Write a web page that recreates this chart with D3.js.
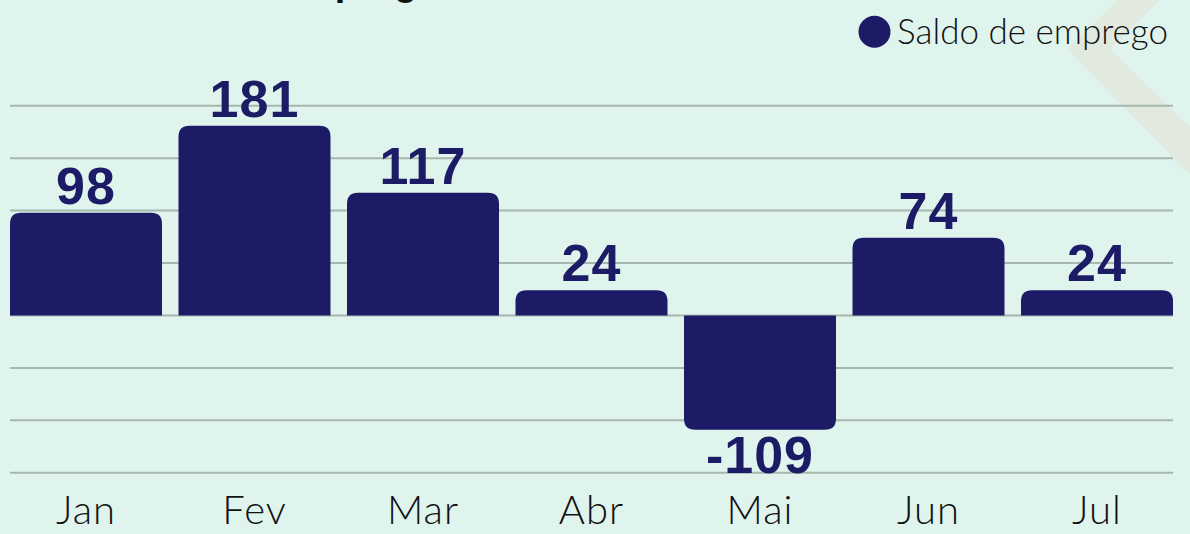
<!DOCTYPE html>
<html lang="pt">

<head>
    <meta charset="UTF-8">
    <title>Saldo de emprego</title>
    <script src="https://d3js.org/d3.v7.min.js"></script>
    <style>
        html, body { margin: 0; padding: 0; background: #e0f4ee; overflow: hidden; }
    </style>
</head>

<body>

    <svg width="1190" height="534"></svg>

    <script>

        // Data
        const months = ["Jan", "Fev", "Mar", "Abr", "Mai", "Jun", "Jul"];
        const saldo = [98, 181, 117, 24, -109, 74, 24];
        const gridValues = [-150, -100, -50, 0, 50, 100, 150, 200];
        const seriesName = "Saldo de emprego";
        const title = "Saldo de emprego";

        const width = 1190, height = 534;
        const navy = "#1c1b66";

        const svg = d3.select("svg")
                      .attr("width", width)
                      .attr("height", height);

        // Background
        svg.append("rect")
           .attr("width", width)
           .attr("height", height)
           .attr("fill", "#e0f4ee");

        // Decorative chevron in the top right corner
        svg.append("path")
           .attr("d", "M1118,0 L1067,49 L1190,175 L1190,127 L1110,49 L1160,0 Z")
           .attr("fill", "#e2eae0");

        // Title, mostly cut off above the picture
        svg.append("text")
           .attr("x", 111)
           .attr("y", -5)
           .style("font-family", "'Liberation Sans', Arial, sans-serif")
           .style("font-weight", "bold")
           .style("font-size", "38px")
           .attr("fill", "#111")
           .text(title);

        // Scales
        const x = d3.scaleBand()
                    .domain(months)
                    .range([10, 1173])
                    .paddingInner(0.098)
                    .paddingOuter(0);

        const y = d3.scaleLinear()
                    .domain([-150, 200])
                    .range([472.8, 105.7]);

        // Gridlines
        svg.append("g")
           .selectAll("line")
           .data(gridValues)
           .enter()
           .append("line")
           .attr("x1", 10)
           .attr("x2", 1173)
           .attr("y1", d => y(d))
           .attr("y2", d => y(d))
           .attr("stroke", "#a6b7ad")
           .attr("stroke-width", 2);

        // Bar path with rounded corners on the outer end
        function barPath(i) {
            const v = saldo[i];
            const x0 = x(months[i]), x1 = x0 + x.bandwidth();
            const y0 = y(0), y1 = y(v);
            const r = Math.min(11, Math.abs(y1 - y0));
            if (v >= 0) {
                return `M${x0},${y0} L${x0},${y1 + r} Q${x0},${y1} ${x0 + r},${y1}
                        L${x1 - r},${y1} Q${x1},${y1} ${x1},${y1 + r} L${x1},${y0} Z`;
            }
            return `M${x0},${y0} L${x0},${y1 - r} Q${x0},${y1} ${x0 + r},${y1}
                    L${x1 - r},${y1} Q${x1},${y1} ${x1},${y1 - r} L${x1},${y0} Z`;
        }

        svg.append("g")
           .selectAll("path")
           .data(d3.range(months.length))
           .enter()
           .append("path")
           .attr("d", barPath)
           .attr("fill", navy);

        // Value labels
        svg.append("g")
           .selectAll("text")
           .data(d3.range(months.length))
           .enter()
           .append("text")
           .attr("x", i => x(months[i]) + x.bandwidth() / 2)
           .attr("y", i => saldo[i] >= 0 ? y(saldo[i]) - 9 : y(saldo[i]) + 43)
           .attr("text-anchor", "middle")
           .style("font-family", "'Liberation Sans', Arial, sans-serif")
           .style("font-weight", "bold")
           .style("font-size", "52px")
           .style("letter-spacing", "1px")
           .attr("fill", navy)
           .text(i => saldo[i]);

        // Month labels
        svg.append("g")
           .selectAll("text")
           .data(months)
           .enter()
           .append("text")
           .attr("x", d => x(d) + x.bandwidth() / 2)
           .attr("y", 524)
           .attr("text-anchor", "middle")
           .style("font-family", "Lato, 'Noto Sans', sans-serif")
           .style("font-weight", "300")
           .style("font-size", "40px")
           .style("letter-spacing", "1px")
           .attr("fill", "#111")
           .text(d => d);

        // Legend
        const legend = svg.append("g");
        legend.append("circle")
              .attr("cx", 874.5)
              .attr("cy", 31.7)
              .attr("r", 16)
              .attr("fill", navy);
        legend.append("text")
              .attr("x", 897)
              .attr("y", 44.3)
              .style("font-family", "Lato, 'Noto Sans', sans-serif")
              .style("font-weight", "300")
              .style("font-size", "35px")
              .attr("fill", "#111")
              .text(seriesName);

    </script>

</body>

</html>
